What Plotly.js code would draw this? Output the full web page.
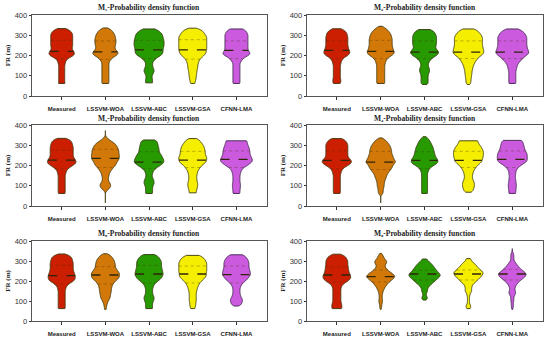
<!DOCTYPE html>
<html><head><meta charset="utf-8">
<script src="https://cdn.plot.ly/plotly-3.0.1.min.js"></script>
<style>html,body{margin:0;padding:0;background:#fff}#chart{width:550px;height:342px}</style>
</head><body><div id="chart"></div>
<script>
// ---------- DATA ----------
const categories = ['Measured', 'LSSVM-WOA', 'LSSVM-ABC', 'LSSVM-GSA', 'CFNN-LMA'];
const panelTitles = [
  'M₁-Probability density function',
  'M₂-Probability density function',
  'M₃-Probability density function',
  'M₄-Probability density function',
  'M₅-Probability density function',
  'M₆-Probability density function'
];
const yTickVals = [0, 100, 200, 300, 400];
// FR levels (m): 60, 70, ..., 340
const levels = [60,70,80,90,100,110,120,130,140,150,160,170,180,190,200,210,220,230,240,250,260,270,280,290,300,310,320,330,340];

// sample counts per level (order = categories)
const m1Counts = [
  [7,6,6,6,6,6,6,6,6,6,7,8,10,16,24,26,24,21,21,22,22,22,22,22,22,21,18,12,0],
  [7,7,7,7,7,7,7,7,7,7,7,8,11,15,22,26,24,20,19,20,21,21,21,20,19,17,14,10,0],
  [7,7,7,6,6,8,10,10,8,7,7,8,12,16,24,27,28,28,29,30,30,30,29,28,27,25,20,14,0],
  [4,5,6,7,7,8,8,9,10,10,11,12,14,18,22,26,27,28,28,28,28,28,28,28,26,23,20,14,0],
  [7,7,7,7,7,7,7,7,7,7,7,9,12,16,24,28,25,23,23,23,23,23,23,23,23,22,19,15,0]
];
const m2Counts = [
  [7,8,8,7,7,7,7,7,7,7,8,9,11,15,22,26,26,24,23,22,22,22,22,22,21,20,17,11,0],
  [8,8,8,8,8,8,8,8,8,8,9,10,12,16,22,27,27,25,24,23,23,23,23,22,21,19,16,12,6],
  [7,7,7,7,7,8,10,10,9,7,8,9,13,17,24,28,28,24,22,23,24,24,24,24,23,21,18,10,0],
  [4,5,5,6,6,7,7,8,9,10,12,14,17,20,26,30,31,30,29,28,28,28,28,28,26,23,19,13,0],
  [7,7,7,7,7,7,7,8,9,10,12,15,19,23,28,33,33,31,30,29,29,29,29,29,27,25,20,14,0]
];
const m3Counts = [
  [7,7,7,7,7,7,7,7,7,7,8,9,11,16,22,28,29,27,24,23,23,23,23,23,22,21,19,14,0],
  [0,1,5,9,11,10,7,6,6,7,8,10,13,16,20,22,24,27,28,28,27,27,26,24,22,18,12,6,2],
  [7,7,7,7,8,10,10,9,7,6,7,8,11,16,22,28,30,29,27,25,22,20,20,19,18,17,16,8,0],
  [7,7,8,9,10,10,9,8,8,8,9,10,12,15,18,24,27,28,28,26,25,25,24,23,21,18,15,11,0],
  [7,7,7,8,8,8,7,7,7,7,8,9,11,15,22,27,32,32,30,28,27,27,26,25,23,22,21,18,0]
];
const m4Counts = [
  [7,7,7,7,7,7,7,7,7,7,8,9,11,15,22,28,30,27,23,22,22,22,22,22,22,21,18,14,0],
  [4,5,5,6,7,7,8,9,11,12,14,17,20,23,24,28,30,27,25,24,22,22,21,20,18,15,12,7,0],
  [6,6,6,6,6,6,6,6,6,6,6,7,9,12,18,25,27,26,23,21,20,19,18,17,15,13,11,8,4],
  [0,7,10,11,12,12,11,9,8,8,9,10,12,15,18,23,27,28,29,30,30,30,28,26,23,20,19,16,0],
  [7,7,7,8,8,8,7,7,6,6,7,7,9,12,17,23,29,30,30,30,29,27,25,24,23,22,20,16,0]
];
const m5Counts = [
  [7,7,7,7,7,7,7,7,7,7,8,9,12,17,24,27,27,27,25,24,23,23,23,23,22,21,19,13,0],
  [2,2,3,4,6,8,10,10,11,12,12,13,14,17,20,25,28,28,28,25,22,20,20,19,18,16,13,9,0],
  [7,7,7,7,9,10,10,8,7,7,7,8,10,13,18,23,26,28,28,27,26,25,25,25,24,22,19,14,0],
  [4,5,6,6,7,7,7,7,7,8,9,10,12,14,18,22,26,27,27,28,28,28,28,28,26,24,19,12,0],
  [0,0,9,11,12,12,9,8,7,7,7,8,10,13,18,22,25,28,28,27,26,25,25,25,24,22,19,14,0]
];
const m6Counts = [
  [10,10,10,9,8,8,8,8,8,8,8,9,11,16,22,27,28,27,25,24,23,23,22,22,22,20,18,12,0],
  [1,2,2,3,4,3,3,3,4,5,7,9,12,15,20,24,29,27,22,16,12,9,9,12,12,8,6,4,1],
  [0,0,0,0,0,6,5,3,4,6,6,8,12,16,21,25,30,32,29,25,22,19,16,12,8,4,0,0,0],
  [3,5,4,2,2,2,2,3,4,7,6,7,8,12,17,20,25,28,30,27,22,18,15,11,6,5,0,0,0],
  [1,2,2,2,3,3,3,5,7,6,5,6,8,11,15,20,25,28,27,22,17,13,10,7,4,3,3,3,2]
];

// min / max FR of each distribution
const m1Span = [[62,333],[62,336],[65,331],[62,335],[62,331]];
const m2Span = [[62,332],[62,344],[57,328],[57,331],[62,331]];
const m3Span = [[62,334],[15,372],[62,326],[65,333],[62,322]];
const m4Span = [[62,333],[15,336],[62,342],[68,322],[62,324]];
const m5Span = [[62,335],[58,336],[62,332],[62,328],[75,331]];
const m6Span = [[62,334],[58,338],[105,310],[62,312],[58,362]];

// medians and quartiles
const m1Median = [220,218,228,228,225];
const m2Median = [225,220,217,217,217];
const m3Median = [227,235,217,227,230];
const m4Median = [225,217,225,225,230];
const m5Median = [227,230,235,235,232];
const m6Median = [230,222,235,235,235];
const m1Q1 = [185,180,185,182,185], m1Q3 = [275,272,275,278,272];
const m2Q1 = [185,185,185,185,185], m2Q3 = [272,275,272,272,272];
const m3Q1 = [185,190,185,190,190], m3Q3 = [275,280,268,270,272];
const m4Q1 = [185,180,185,190,190], m4Q3 = [272,270,268,270,272];
const m5Q1 = [185,185,190,190,190], m5Q3 = [278,272,278,275,275];
const m6Q1 = [195,195,205,205,205], m6Q3 = [270,255,255,255,258];

// ---------- STYLE ----------
const fills = ['#cc1e00', '#d27808', '#269a00', '#f6ee00', '#cc5ade'];
const outlines = ['#4a3a14', '#4a4014', '#3a4014', '#4a4a14', '#4a2f5a'];
const BW = 6;
const xRange = [-0.68, 4.7];
const colPx = [[32, 267], [307, 543]];
const rowPx = [[15, 96], [125, 206], [241, 321]];
const titleRowPx = [7, 118, 233];
const W = 550, H = 342;

const panels = [
  {c: m1Counts, s: m1Span, md: m1Median, q1: m1Q1, q3: m1Q3},
  {c: m2Counts, s: m2Span, md: m2Median, q1: m2Q1, q3: m2Q3},
  {c: m3Counts, s: m3Span, md: m3Median, q1: m3Q1, q3: m3Q3},
  {c: m4Counts, s: m4Span, md: m4Median, q1: m4Q1, q3: m4Q3},
  {c: m5Counts, s: m5Span, md: m5Median, q1: m5Q1, q3: m5Q3},
  {c: m6Counts, s: m6Span, md: m6Median, q1: m6Q1, q3: m6Q3}
];

function kde(counts, y) {
  let s = 0;
  for (let j = 0; j < levels.length; j++) {
    const u = (y - levels[j]) / BW;
    s += counts[j] * Math.exp(-0.5 * u * u);
  }
  return s;
}
const step = levels[1] - levels[0];
let norm = 0;
for (let k = -8; k <= 8; k++) norm += Math.exp(-0.5 * Math.pow(step * k / BW, 2));

const traces = [];
const layout = {
  width: W, height: H, margin: {l: 0, r: 0, t: 0, b: 0},
  paper_bgcolor: '#fff', plot_bgcolor: '#fff', showlegend: false,
  violinmode: 'overlay', annotations: []
};

panels.forEach((p, i) => {
  const col = i % 2, row = Math.floor(i / 2);
  const sfx = i === 0 ? '' : String(i + 1);
  const xa = 'x' + sfx, ya = 'y' + sfx;
  const xd = colPx[col], yd = rowPx[row];
  const pxUnit = (xd[1] - xd[0]) / (xRange[1] - xRange[0]);

  layout['xaxis' + sfx] = {
    domain: [xd[0] / W, xd[1] / W], anchor: ya, range: xRange,
    tickmode: 'array', tickvals: [0, 1, 2, 3, 4], ticktext: categories,
    ticks: 'outside', ticklen: 3, tickwidth: 1, tickcolor: '#333', ticklabelstandoff: 3,
    showline: true, mirror: true, linecolor: '#555', linewidth: 1.3,
    showgrid: false, zeroline: false, fixedrange: true,
    tickfont: {family: 'Liberation Sans, Arial', size: 6, color: '#222', weight: 'bold'}
  };
  layout['yaxis' + sfx] = {
    domain: [1 - yd[1] / H, 1 - yd[0] / H], anchor: xa, range: [0, 400],
    tickmode: 'array', tickvals: yTickVals,
    ticks: 'outside', ticklen: 2, tickwidth: 1, tickcolor: '#333',
    showline: true, mirror: true, linecolor: '#555', linewidth: 1.3,
    showgrid: false, zeroline: false, fixedrange: true,
    tickfont: {family: 'Liberation Sans, Arial', size: 7.5, color: '#333'},
    title: {text: 'FR (m)', standoff: 3,
      font: {family: 'Liberation Serif, Times New Roman, serif', size: 7, color: '#222', weight: 'bold'}}
  };
  layout.annotations.push({
    text: panelTitles[i], xref: 'paper', yref: 'paper',
    x: (xd[0] + xd[1]) / 2 / W, y: 1 - titleRowPx[row] / H,
    xanchor: 'center', yanchor: 'middle', showarrow: false,
    font: {family: 'Liberation Serif, Times New Roman, serif', size: 7.5, color: '#222', weight: 'bold'}
  });

  p.c.forEach((counts, k) => {
    const samples = [];
    counts.forEach((n, j) => { for (let t = 0; t < n; t++) samples.push(levels[j]); });
    const span = p.s[k];
    let maxK = 0;
    for (let y = span[0]; y <= span[1]; y += 0.5) maxK = Math.max(maxK, kde(counts, y));
    const widthUnits = maxK / norm / pxUnit;
    traces.push({
      type: 'violin', x0: k, y: samples, xaxis: xa, yaxis: ya, orientation: 'v',
      width: widthUnits, bandwidth: BW, spanmode: 'manual', span: span,
      scalemode: 'width', points: false, box: {visible: false}, meanline: {visible: false},
      fillcolor: fills[k], line: {color: outlines[k], width: 1}, opacity: 1,
      hoverinfo: 'skip', showlegend: false, name: categories[k]
    });
    const half = v => kde(counts, v) / norm / pxUnit / 2;
    [[p.q1[k], 'dot', 'rgba(70,50,0,0.45)', 0.8], [p.q3[k], 'dot', 'rgba(70,50,0,0.45)', 0.8],
     [p.md[k], 'dash', '#2e2408', 1.3]].forEach(([v, dash, color, w]) => {
      const h = half(v);
      traces.push({
        type: 'scatter', mode: 'lines', x: [k - h, k + h], y: [v, v], xaxis: xa, yaxis: ya,
        line: {color: color, width: w, dash: dash}, hoverinfo: 'skip', showlegend: false
      });
    });
  });
});

Plotly.newPlot('chart', traces, layout, {staticPlot: true, displayModeBar: false});
</script>
</body></html>
